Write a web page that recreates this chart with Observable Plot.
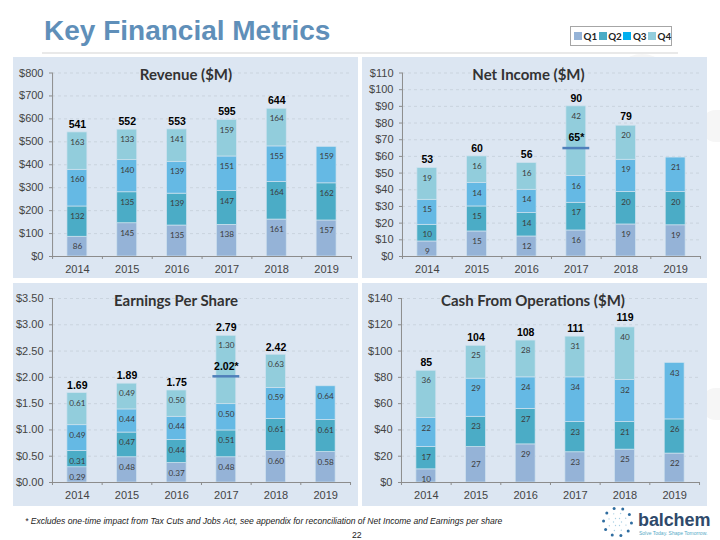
<!DOCTYPE html>
<html><head><meta charset="utf-8">
<script src="https://cdn.jsdelivr.net/npm/d3@7"></script>
<script src="https://cdn.jsdelivr.net/npm/@observablehq/plot@0.6"></script>
<style>
html,body{margin:0;padding:0;background:#fff;}
#page{position:relative;width:720px;height:540px;overflow:hidden;font-family:"Liberation Sans",sans-serif;}
#page>*{position:absolute;}
.blob{background:#f6f6f6;border-radius:16px;}
h1{margin:0;left:44px;top:15px;font:bold 28px "Liberation Sans",sans-serif;color:#5f8fb9;white-space:nowrap;}
#rule{left:42px;top:52px;width:636px;height:2px;background:#e9e9e9;}
.panel{background:#dce6f2;}
.ptitle{font:bold 15px Lato,sans-serif;color:#333;transform:translateX(-50%);white-space:nowrap;}
#legend{left:570px;top:26px;width:100px;height:18px;padding-left:3px;box-sizing:content-box;width:97px;border:1px solid #a6a6a6;border-bottom-width:1.5px;background:#fff;display:flex;align-items:center;justify-content:flex-start;gap:1.6px;font:bold 9.8px Lato,sans-serif;color:#222;}
#legend span{display:flex;align-items:center;white-space:nowrap;}
#legend i{display:block;width:8px;height:8px;margin-right:1.5px;}
#note{left:25px;top:516px;font:italic 8.55px "Liberation Sans",sans-serif;color:#222;white-space:nowrap;}
#num{left:352px;top:530px;font:8.7px "Liberation Sans",sans-serif;color:#222;}
#brand{left:638px;top:510px;font:bold 18px "Liberation Sans",sans-serif;color:#2f4a6b;letter-spacing:-.1px;}
#tag{left:639px;top:530px;font:5px "Liberation Sans",sans-serif;color:#55a9c6;white-space:nowrap;}
</style></head><body><div id="page">
<div class="blob" style="left:612px;top:54px;width:60px;height:30px;border-radius:30px 30px 0 0"></div>
<div class="blob" style="left:700px;top:110px;width:40px;height:32px"></div>
<div class="blob" style="left:700px;top:388px;width:40px;height:32px"></div>
<h1>Key Financial Metrics</h1>
<div id="rule"></div>
<div id="legend"></div>
<div id="note">* Excludes one-time impact from Tax Cuts and Jobs Act, see appendix for reconciliation of Net Income and Earnings per share</div>
<div id="num">22</div>
<div id="brand">balchem</div>
<div id="tag">Solve Today. Shape Tomorrow.</div>
</div>
<script>
const years = [2014, 2015, 2016, 2017, 2018, 2019];
const quarters = ["Q1", "Q2", "Q3", "Q4"];
const barColors = ["#95b3d7", "#4bacc6", "#65b9e4", "#92cddc"];
const legendColors = ["#95b3d7", "#4bacc6", "#00b0f0", "#92cddc"];

const revenueQ1 = [86, 145, 135, 138, 161, 157];
const revenueQ2 = [132, 135, 139, 147, 164, 162];
const revenueQ3 = [160, 140, 139, 151, 155, 159];
const revenueQ4 = [163, 133, 141, 159, 164, null];
const revenueTotals = [541, 552, 553, 595, 644, null];

const netQ1 = [9, 15, 12, 15.6, 19.2, 18.7];
const netQ2 = [10, 15, 14, 16.6, 19.5, 19.9];
const netQ3 = [15, 14, 14, 16, 19.3, 20.7];
const netQ4 = [19, 16, 16, 41.8, 20.4, null];
const netTotals = [53, 60, 56, 90, 79, null];

const epsQ1 = [0.29, 0.48, 0.37, 0.48, 0.60, 0.58];
const epsQ2 = [0.31, 0.47, 0.44, 0.51, 0.61, 0.61];
const epsQ3 = [0.49, 0.44, 0.44, 0.50, 0.59, 0.64];
const epsQ4 = [0.61, 0.49, 0.50, 1.30, 0.63, null];
const epsTotals = [1.69, 1.89, 1.75, 2.79, 2.42, null];

const cashQ1 = [10, 27, 29, 23, 25, 22];
const cashQ2 = [17, 23, 27, 23, 21, 26];
const cashQ3 = [22, 29, 24, 34, 32, 43];
const cashQ4 = [36, 25, 28, 31, 40, null];
const cashTotals = [85, 104, 108, 111, 119, null];

const panels = [
  {title:"Revenue ($M)", q:[revenueQ1,revenueQ2,revenueQ3,revenueQ4], totals:revenueTotals,
   ticks:[0,100,200,300,400,500,600,700,800], max:800, tickFmt:d=>"$"+d, fmt:d3.format(".0f"), totalFmt:d3.format(".0f"),
   box:[13,57,345,221], m:[39,7], y:[15.5,199], tx:186},
  {title:"Net Income ($M)", q:[netQ1,netQ2,netQ3,netQ4], totals:netTotals,
   ticks:[0,10,20,30,40,50,60,70,80,90,100,110], max:110, tickFmt:d=>"$"+d, fmt:d3.format(".0f"), totalFmt:d3.format(".0f"),
   box:[362,57,345,221], m:[40,7], y:[15.5,199], tx:528.5, adj:{year:2017, value:65, label:"65*"}},
  {title:"Earnings Per Share", q:[epsQ1,epsQ2,epsQ3,epsQ4], totals:epsTotals,
   ticks:[0,.5,1,1.5,2,2.5,3,3.5], max:3.5, tickFmt:d3.format("$.2f"), fmt:d3.format(".2f"), totalFmt:d3.format(".2f"),
   box:[13,283,345,223], m:[39,8], y:[15,199], tx:176, adj:{year:2017, value:2.02, label:"2.02*"}},
  {title:"Cash From Operations ($M)", q:[cashQ1,cashQ2,cashQ3,cashQ4], totals:cashTotals,
   ticks:[0,20,40,60,80,100,120,140], max:140, tickFmt:d=>"$"+d, fmt:d3.format(".0f"), totalFmt:d3.format(".0f"),
   box:[362,283,345,223], m:[39,8], y:[15,199], tx:533, centred:{year:"2015", q:"Q1"}}
];

const page = document.getElementById("page");

for (const p of panels) {
  const rows = years.flatMap((year,i)=>quarters.map((q,k)=>({year:String(year), q, value:p.q[k][i]})).filter(d=>d.value!=null));
  const totals = years.map((year,i)=>({year:String(year), total:p.totals[i]})).filter(d=>d.total!=null);
  const stacked = {x:"year", y:"value", z:"q", order:quarters};
  const isCentred = d => p.centred && d.year===p.centred.year && d.q===p.centred.q;
  const labelStyle = {fontSize:8.2, fontFamily:"Lato", fill:"#3c3c3c"};
  const [left,top,w,h] = p.box;
  const chart = Plot.plot({
    width:w, height:h,
    marginLeft:p.m[0], marginRight:p.m[1], marginTop:p.y[0], marginBottom:h-p.y[1],
    style:{background:"transparent", overflow:"visible"},
    x:{domain:years.map(String), paddingInner:0.6, paddingOuter:0.3, round:false, label:null},
    y:{domain:[0,p.max], label:null},
    color:{domain:quarters, range:barColors},
    marks:[
      Plot.ruleY(p.ticks.filter(t=>t>0), {stroke:"#c5cfd9", strokeWidth:0.8, strokeDasharray:"3 3"}),
      Plot.barY(rows, {...stacked, fill:"q", stroke:"#cfe2ee", strokeWidth:0.7}),
      Plot.text(rows, Plot.stackY2({...stacked, ...labelStyle, text:d=>isCentred(d)?"":p.fmt(d.value), dy:10})),
      Plot.text(rows, Plot.stackY2({...stacked, ...labelStyle, text:d=>isCentred(d)?p.fmt(d.value):"", dy:17})),
      Plot.text(totals, {x:"year", y:"total", text:d=>p.totalFmt(d.total), dy:-8, fontSize:10.5, fontWeight:"bold", fontFamily:"Liberation Sans", fill:"#000"}),
      p.adj ? Plot.tickY([p.adj], {x:d=>String(d.year), y:"value", stroke:"#4f7fba", strokeWidth:2.5, insetLeft:-3.5, insetRight:-3.5}) : null,
      p.adj ? Plot.text([p.adj], {x:d=>String(d.year), y:"value", text:"label", dy:-10, fontSize:10.5, fontWeight:"bold", fontFamily:"Liberation Sans", fill:"#000"}) : null,
      Plot.axisY({ticks:p.ticks, tickFormat:p.tickFmt, tickSize:3, tickPadding:6, stroke:"#8c8c8c", fill:"#444", fontSize:11, fontFamily:"Liberation Sans", label:null}),
      Plot.ruleX([String(years[0])], {dx:-24.85, stroke:"#8c8c8c", strokeWidth:1}),
      Plot.ruleY([0], {stroke:"#8c8c8c", strokeWidth:1.2}),
      Plot.axisX({tickSize:0, tickPadding:9, fill:"#444", fontSize:11, fontFamily:"Liberation Sans", label:null}),
      Plot.axisX({text:null, tickSize:3, dx:-24.85, stroke:"#8c8c8c", label:null}),
      Plot.axisX({ticks:[String(years[5])], text:null, tickSize:3, dx:24.85, stroke:"#8c8c8c", label:null})
    ]
  });
  const panel = document.createElement("div");
  panel.className = "panel";
  panel.style.cssText = `left:${left}px;top:${top}px;width:${w}px;height:${h}px`;
  chart.style.cssText += ";position:absolute;left:0;top:0;";
  panel.appendChild(chart);
  page.appendChild(panel);
  const t = document.createElement("div");
  t.className = "ptitle";
  t.textContent = p.title;
  t.style.left = p.tx + "px";
  t.style.top = (top + 8) + "px";
  page.appendChild(t);
}

const legend = document.getElementById("legend");
quarters.forEach((q,i)=>{
  const s = document.createElement("span");
  s.innerHTML = `<i style="background:${legendColors[i]}"></i>${q}`;
  legend.appendChild(s);
});

// logo dots
const logoRings = [[4,6],[9,8],[14,10]];
const logo = d3.select("#page").append("svg").style("left","600px").style("top","505px").attr("width",34).attr("height",34);
const cx=17.5, cy=17;
logoRings.forEach(([r,n],j)=>{
  d3.range(n).forEach(i=>{
    const a = i/n*2*Math.PI + j*0.35;
    logo.append("circle").attr("cx",cx+r*Math.cos(a)).attr("cy",cy+r*Math.sin(a)).attr("r",j==2?1.5:0.7).attr("fill",j==2?"#2f6da0":"#a9cfe3");
  });
});
</script></body></html>
